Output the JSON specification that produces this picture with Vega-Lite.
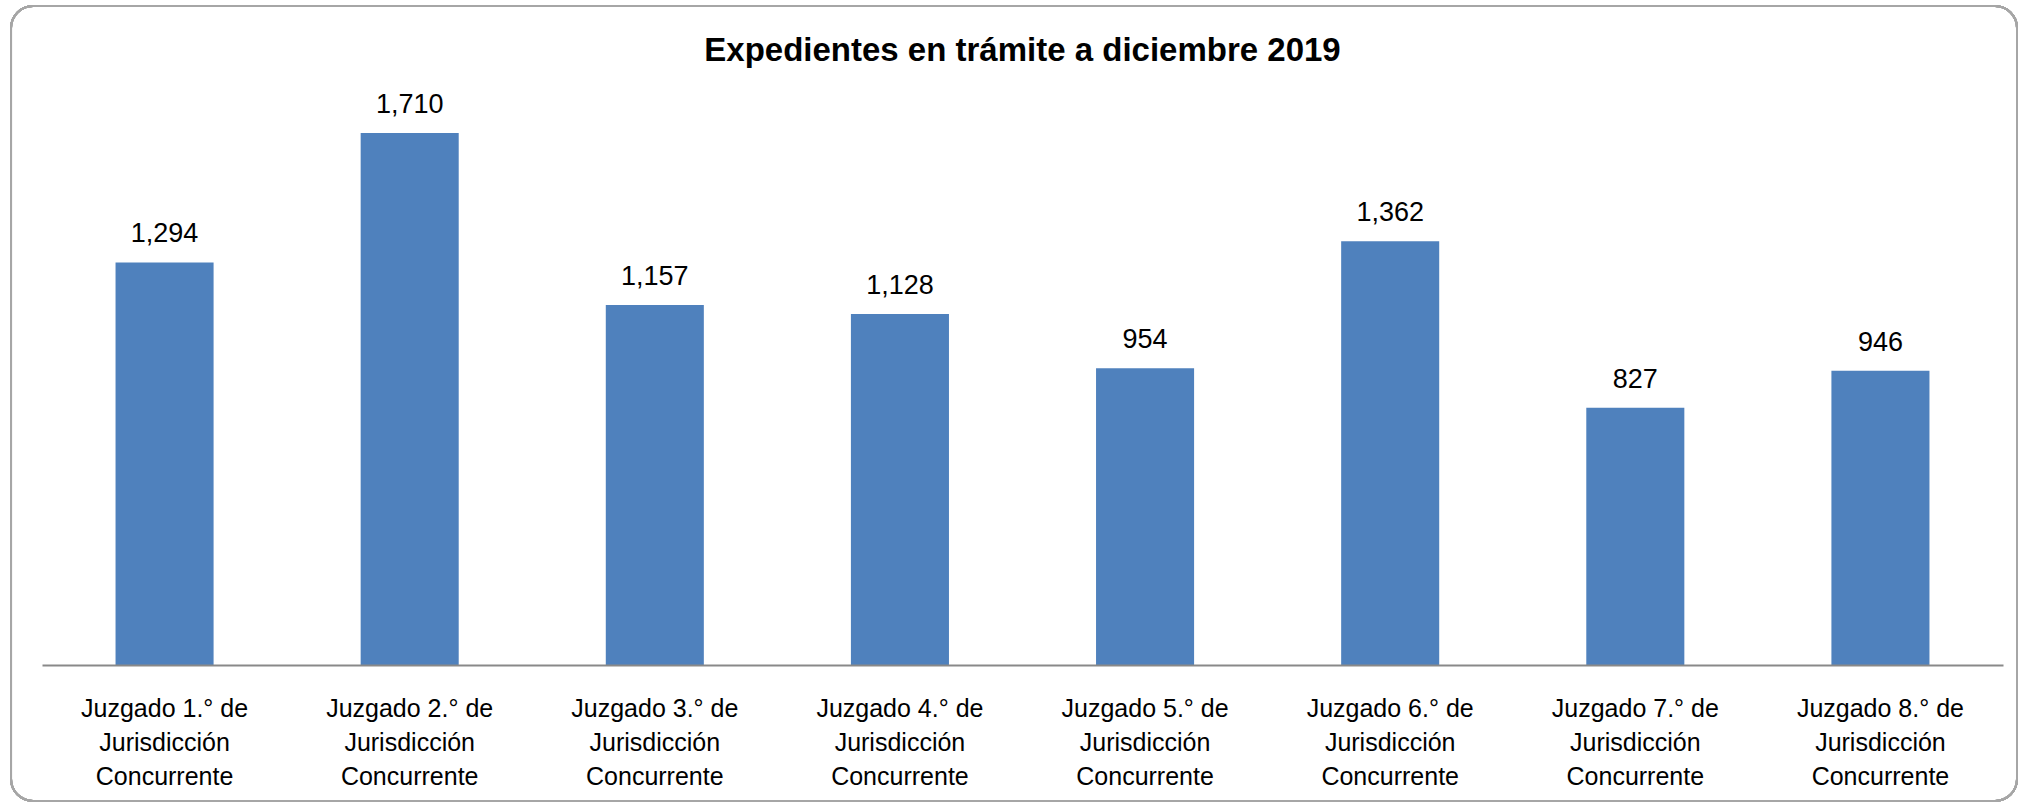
{
  "$schema": "https://vega.github.io/schema/vega-lite/v6.json",
  "autosize": {"type": "none"},
  "width": 1961,
  "height": 560,
  "padding": {"left": 42, "top": 105, "right": 15, "bottom": 140},
  "background": "white",
  "title": {
    "text": "Expedientes en trámite a diciembre 2019",
    "font": "Liberation Sans",
    "fontSize": 33,
    "fontWeight": "bold",
    "color": "#000000",
    "anchor": "middle",
    "baseline": "alphabetic",
    "offset": -89
  },
  "data": {
    "values": [
      {"juzgado": "Juzgado 1.° de Jurisdicción Concurrente", "expedientes": 1294},
      {"juzgado": "Juzgado 2.° de Jurisdicción Concurrente", "expedientes": 1710},
      {"juzgado": "Juzgado 3.° de Jurisdicción Concurrente", "expedientes": 1157},
      {"juzgado": "Juzgado 4.° de Jurisdicción Concurrente", "expedientes": 1128},
      {"juzgado": "Juzgado 5.° de Jurisdicción Concurrente", "expedientes": 954},
      {"juzgado": "Juzgado 6.° de Jurisdicción Concurrente", "expedientes": 1362},
      {"juzgado": "Juzgado 7.° de Jurisdicción Concurrente", "expedientes": 827},
      {"juzgado": "Juzgado 8.° de Jurisdicción Concurrente", "expedientes": 946}
    ]
  },
  "encoding": {
    "x": {
      "field": "juzgado",
      "type": "nominal",
      "scale": {
        "domain": [
          "Juzgado 1.° de Jurisdicción Concurrente",
          "Juzgado 2.° de Jurisdicción Concurrente",
          "Juzgado 3.° de Jurisdicción Concurrente",
          "Juzgado 4.° de Jurisdicción Concurrente",
          "Juzgado 5.° de Jurisdicción Concurrente",
          "Juzgado 6.° de Jurisdicción Concurrente",
          "Juzgado 7.° de Jurisdicción Concurrente",
          "Juzgado 8.° de Jurisdicción Concurrente"
        ],
        "paddingInner": 0.6,
        "paddingOuter": 0.3
      },
      "axis": {
        "title": null,
        "labelAngle": 0,
        "labelFont": "Liberation Sans",
        "labelFontSize": 25,
        "labelColor": "#000000",
        "labelLineHeight": 34,
        "labelBaseline": "top",
        "labelPadding": 31,
        "labelExpr": "[replace(datum.value, ' Jurisdicción Concurrente', ''), 'Jurisdicción', 'Concurrente']",
        "ticks": false,
        "domainColor": "#898989",
        "domainWidth": 2,
        "labelOverlap": false,
        "labelBound": false
      }
    },
    "y": {
      "field": "expedientes",
      "type": "quantitative",
      "scale": {"domain": [0, 1800]},
      "axis": null
    }
  },
  "layer": [
    {
      "mark": {"type": "rect", "fill": null, "fillOpacity": 0, "stroke": "#A6A6A6", "strokeWidth": 2, "cornerRadius": 22},
      "encoding": {
        "x": {"datum": "Juzgado 1.° de Jurisdicción Concurrente", "bandPosition": -1.066},
        "x2": {"datum": "Juzgado 8.° de Jurisdicción Concurrente", "bandPosition": 1.893},
        "y": {"datum": 2118},
        "y2": {"datum": -437}
      }
    },
    {"mark": {"type": "bar", "color": "#4F81BD"}},
    {
      "mark": {
        "type": "text",
        "font": "Liberation Sans",
        "fontSize": 27,
        "color": "#000000",
        "baseline": "alphabetic",
        "dy": -20
      },
      "encoding": {
        "text": {"field": "expedientes", "type": "quantitative", "format": ","}
      }
    }
  ],
  "config": {"view": {"stroke": null}}
}
